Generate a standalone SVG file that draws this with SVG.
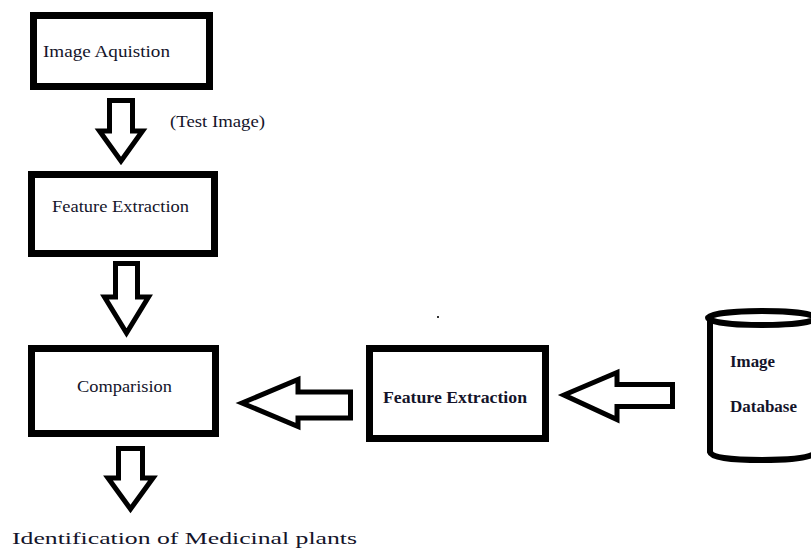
<svg xmlns="http://www.w3.org/2000/svg" width="811" height="548" viewBox="0 0 811 548">
<style>
.box{fill:#fff;stroke:#000;stroke-width:7}
.arr{fill:#fff;stroke:#000;stroke-width:5;stroke-linejoin:miter}
.t{fill:#14142a;font-size:17px}
.b{font-weight:bold;font-size:16px}
</style>
<rect width="811" height="548" fill="#fff"/>
<g font-family="'Liberation Serif', 'DejaVu Serif', 'Times New Roman', serif">
<g id="image-aquisition">
<rect class="box" x="33.5" y="15.5" width="176" height="71"/>
<text class="t" x="43" y="57" textLength="127" lengthAdjust="spacingAndGlyphs">Image Aquistion</text>
</g>
<g id="feature-extraction-1">
<rect class="box" x="31.5" y="174.5" width="183" height="79"/>
<text class="t" x="52" y="212" textLength="137" lengthAdjust="spacingAndGlyphs">Feature Extraction</text>
</g>
<g id="comparision">
<rect class="box" x="31.5" y="348.5" width="184" height="85"/>
<text class="t" x="77" y="392" textLength="95" lengthAdjust="spacingAndGlyphs">Comparision</text>
</g>
<g id="feature-extraction-2">
<rect class="box" x="369.5" y="348.5" width="176" height="90"/>
<text class="t b" x="383" y="403" textLength="144" lengthAdjust="spacingAndGlyphs">Feature Extraction</text>
</g>
<g id="image-database">
<path d="M710 318 L710 452 Q712 460 762 460 Q811 460 816 452 L816 318" fill="#fff" stroke="#000" stroke-width="6"/>
<ellipse cx="762" cy="318" rx="54" ry="7" fill="#fff" stroke="#000" stroke-width="6"/>
<text class="t b" x="730" y="367" textLength="45" lengthAdjust="spacingAndGlyphs">Image</text>
<text class="t b" x="730" y="412" textLength="67" lengthAdjust="spacingAndGlyphs">Database</text>
</g>
<g id="test-image-label">
<text class="t" x="170" y="127" textLength="95" lengthAdjust="spacingAndGlyphs">(Test Image)</text>
</g>
<g id="result-label">
<text class="t" x="12" y="544" textLength="345" lengthAdjust="spacingAndGlyphs">Identification of Medicinal plants</text>
</g>
</g>
<g id="connectors">
<polygon class="arr" points="109.5,100.5 132.5,100.5 132.5,131 142.5,131 121,161 99.5,131 109.5,131"/>
<polygon class="arr" points="115.5,263.5 137.5,263.5 137.5,297 148.5,297 126.5,333 104.5,297 115.5,297"/>
<polygon class="arr" points="118.5,448.5 142.5,448.5 142.5,478 153,478 130.5,509 108,478 118.5,478"/>
<polygon class="arr" points="242,403 298,379.5 298,392 350.5,392 350.5,418 298,418 298,426.5"/>
<polygon class="arr" points="564,395 617,372.5 617,384.5 672.5,384.5 672.5,406.5 617,406.5 617,419.5"/>
</g>
<rect x="437" y="316" width="2" height="2" fill="#333"/>
</svg>
